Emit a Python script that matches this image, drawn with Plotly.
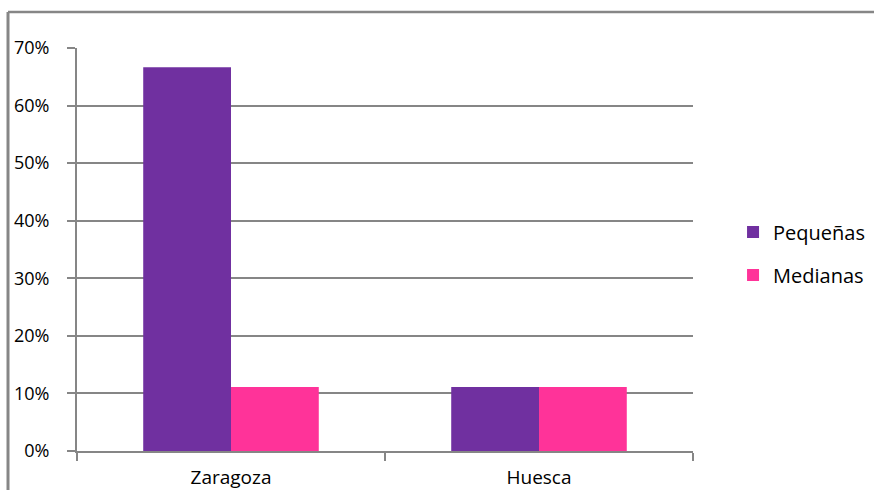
import plotly.graph_objects as go

# Share of companies by size, per province
provincias = ["Zaragoza", "Huesca"]
pequenas = [0.6667, 0.1111]
medianas = [0.1111, 0.1111]
serie_nombres = ["Pequeñas", "Medianas"]
y_ticks = [0, 0.1, 0.2, 0.3, 0.4, 0.5, 0.6, 0.7]

colores = ["#7030A0", "#FF3399"]
gris = "#868686"
fuente = "Open Sans"

fig = go.Figure()
for nombre, valores, color in zip(serie_nombres, [pequenas, medianas], colores):
    fig.add_trace(go.Bar(
        x=provincias, y=valores, name=nombre,
        marker=dict(color=color, line=dict(width=0)),
        legendgroup=nombre,
    ))

fig.update_layout(
    width=874, height=490,
    margin=dict(l=77, r=181, t=48, b=39, autoexpand=False),
    paper_bgcolor="white", plot_bgcolor="white",
    barmode="group", bargap=0.43, bargroupgap=0,
    font=dict(family=fuente, color="black", size=18),
    showlegend=True,
    legend=dict(
        x=1.065, y=0.49, xanchor="left", yanchor="middle",
        font=dict(family=fuente, size=20, color="black"),
        traceorder="grouped", tracegroupgap=14,
        bgcolor="rgba(0,0,0,0)",
    ),
    xaxis=dict(
        showline=True, linecolor=gris, linewidth=2,
        ticks="outside", tickson="boundaries", ticklen=8,
        tickcolor=gris, tickwidth=2,
        showgrid=False, ticklabelstandoff=8, automargin=False,
        tickfont=dict(family=fuente, size=19),
    ),
    yaxis=dict(
        range=[0, 0.7], tickvals=y_ticks, tickformat=".0%",
        showline=True, linecolor=gris, linewidth=2,
        ticks="outside", ticklen=8, tickcolor=gris, tickwidth=1.5,
        showgrid=True, gridcolor=gris, gridwidth=1.5,
        zeroline=False, ticklabelstandoff=14, automargin=False,
        tickfont=dict(family=fuente, size=18),
    ),
    shapes=[
        # chart frame: top and left edges
        dict(type="line", xref="paper", yref="paper",
             x0=-0.112, x1=1.32, y0=1.0893, y1=1.0893,
             line=dict(color=gris, width=2.5)),
        dict(type="line", xref="paper", yref="paper",
             x0=-0.112, x1=-0.112, y0=1.0893, y1=-0.15,
             line=dict(color=gris, width=3)),
    ],
)

fig.write_html("out.html")
